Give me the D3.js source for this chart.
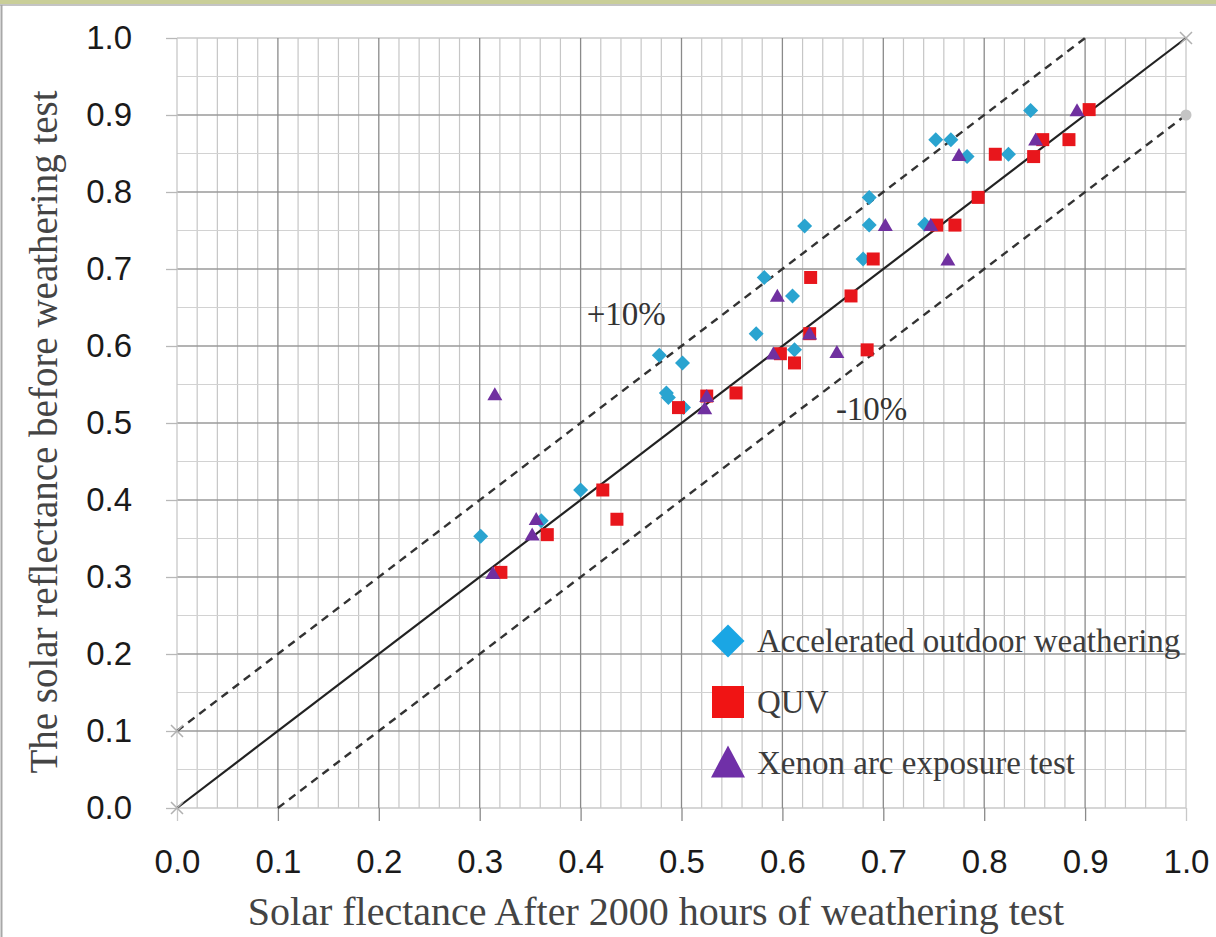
<!DOCTYPE html>
<html>
<head>
<meta charset="utf-8">
<script src="https://cdn.jsdelivr.net/npm/d3@7"></script>
<style>
  html, body { margin: 0; padding: 0; background: #fff; }
  svg { display: block; }
</style>
</head>
<body>
<svg id="chart" width="1216" height="937"></svg>
<script>
// ---------------- data ----------------
const xTicks = [0.0, 0.1, 0.2, 0.3, 0.4, 0.5, 0.6, 0.7, 0.8, 0.9, 1.0];
const yTicks = [0.0, 0.1, 0.2, 0.3, 0.4, 0.5, 0.6, 0.7, 0.8, 0.9, 1.0];

const outdoorX = [0.301, 0.361, 0.400, 0.478, 0.501, 0.485, 0.487, 0.502, 0.574, 0.582, 0.610, 0.612, 0.622, 0.680, 0.686, 0.686, 0.741, 0.752, 0.767, 0.783, 0.824, 0.846];
const outdoorY = [0.353, 0.373, 0.413, 0.588, 0.578, 0.539, 0.533, 0.520, 0.616, 0.689, 0.665, 0.595, 0.756, 0.713, 0.757, 0.793, 0.758, 0.868, 0.868, 0.846, 0.849, 0.906];

const quvX = [0.321, 0.367, 0.422, 0.436, 0.497, 0.525, 0.554, 0.598, 0.612, 0.627, 0.628, 0.668, 0.684, 0.690, 0.753, 0.771, 0.794, 0.811, 0.849, 0.858, 0.884, 0.904];
const quvY = [0.306, 0.355, 0.413, 0.375, 0.520, 0.535, 0.539, 0.590, 0.578, 0.616, 0.689, 0.665, 0.595, 0.713, 0.757, 0.757, 0.793, 0.849, 0.846, 0.868, 0.868, 0.907];

const xenonX = [0.313, 0.315, 0.352, 0.356, 0.523, 0.525, 0.591, 0.595, 0.627, 0.654, 0.702, 0.747, 0.764, 0.775, 0.851, 0.892];
const xenonY = [0.305, 0.537, 0.355, 0.375, 0.519, 0.535, 0.590, 0.665, 0.616, 0.592, 0.757, 0.757, 0.712, 0.848, 0.868, 0.906];

const seriesNames = ["Accelerated outdoor weathering", "QUV", "Xenon arc exposure test"];

// reference lines: y = x, y = x + 0.1, y = x - 0.1
const lineEqualX = [0.0, 1.0];
const lineEqualY = [0.0, 1.0];
const linePlusX = [0.0, 0.9];
const linePlusY = [0.1, 1.0];
const lineMinusX = [0.1, 1.0];
const lineMinusY = [0.0, 0.9];

const annotationTexts = ["+10%", "-10%"];
const annotationX = [0.406, 0.653];
const annotationY = [0.627, 0.504];

const xTitle = "Solar flectance After 2000 hours of weathering test";
const yTitle = "The solar reflectance before weathering test";

// ---------------- layout ----------------
const svg = d3.select("#chart");
const W = 1216, H = 937;
const x = d3.scaleLinear().domain([0, 1]).range([177, 1186]);
const y = d3.scaleLinear().domain([0, 1]).range([808, 38]);

const colOutdoor = "#2aa4d0";
const colQuv = "#e8161c";
const colXenon = "#7030a0";

// frame
svg.append("rect").attr("x", 0).attr("y", 0).attr("width", W).attr("height", 4).attr("fill", "#c9ce98");
svg.append("line").attr("x1", 0).attr("x2", W).attr("y1", 5).attr("y2", 5).attr("stroke", "#b0b0b0").attr("stroke-width", 1.5);
svg.append("line").attr("x1", 1.5).attr("x2", 1.5).attr("y1", 5).attr("y2", H).attr("stroke", "#a8a8a8").attr("stroke-width", 2);

// grid
const g = svg.append("g");
const vMinor = d3.range(0, 51).map(i => i / 50);
const hMinor = d3.range(0, 21).map(i => i / 20);
g.selectAll("line.vminor").data(vMinor.filter(v => Math.round(v * 50) % 5 !== 0)).join("line")
  .attr("x1", d => x(d)).attr("x2", d => x(d)).attr("y1", y(1)).attr("y2", y(0))
  .attr("stroke", "#c6c6c6").attr("stroke-width", 1.2);
g.selectAll("line.hminor").data(hMinor.filter(v => Math.round(v * 20) % 2 !== 0)).join("line")
  .attr("x1", x(0)).attr("x2", x(1)).attr("y1", d => y(d)).attr("y2", d => y(d))
  .attr("stroke", "#d2d2d2").attr("stroke-width", 1.2);
g.selectAll("line.hmajor").data(yTicks).join("line")
  .attr("x1", x(0)).attr("x2", x(1)).attr("y1", d => y(d)).attr("y2", d => y(d))
  .attr("stroke", d => (d === 0 || d === 1) ? "#c8c8c8" : "#9a9a9a").attr("stroke-width", 1.3);
g.selectAll("line.vmajor").data(xTicks).join("line")
  .attr("x1", d => x(d)).attr("x2", d => x(d)).attr("y1", y(1)).attr("y2", y(0))
  .attr("stroke", d => (d === 0 || d === 1) ? "#c8c8c8" : "#8a8a8a").attr("stroke-width", 1.3);

// axes
const tickFont = "'Liberation Sans', Arial, sans-serif";
const xAxis = d3.axisBottom(x).tickValues(xTicks).tickFormat(d3.format(".1f")).tickSize(13).tickPadding(29);
const yAxis = d3.axisLeft(y).tickValues(yTicks).tickFormat(d3.format(".1f")).tickSize(11).tickPadding(34);
const gx = svg.append("g").attr("transform", `translate(0,${y(0)})`).call(xAxis);
const gy = svg.append("g").attr("transform", `translate(${x(0)},0)`).call(yAxis);
[gx, gy].forEach(a => {
  a.select(".domain").remove();
  a.selectAll(".tick line").attr("stroke", "#b8b8b8").attr("stroke-width", 1.3);
  a.selectAll(".tick text").attr("font-family", tickFont).attr("font-size", 33).attr("fill", "#1a1a1a");
});
gx.selectAll(".tick line").attr("stroke", d => (d === 0 || d === 1) ? "#c8c8c8" : "#8a8a8a");

// reference lines
const lineGen = d3.line().x(d => x(d[0])).y(d => y(d[1]));
const zip = (a, b) => a.map((v, i) => [v, b[i]]);
svg.append("path").datum(zip(lineEqualX, lineEqualY)).attr("d", lineGen)
  .attr("fill", "none").attr("stroke", "#222").attr("stroke-width", 2.2);
svg.append("path").datum(zip(linePlusX, linePlusY)).attr("d", lineGen)
  .attr("fill", "none").attr("stroke", "#333").attr("stroke-width", 2.4).attr("stroke-dasharray", "8,6");
svg.append("path").datum(zip(lineMinusX, lineMinusY)).attr("d", lineGen)
  .attr("fill", "none").attr("stroke", "#333").attr("stroke-width", 2.4).attr("stroke-dasharray", "8,6");

// end markers of reference lines
const crossPts = [[lineEqualX[0], lineEqualY[0]], [lineEqualX[1], lineEqualY[1]], [linePlusX[0], linePlusY[0]]];
crossPts.forEach(p => {
  const cx = x(p[0]), cy = y(p[1]);
  svg.append("path").attr("d", `M${cx-6},${cy-6}L${cx+6},${cy+6}M${cx-6},${cy+6}L${cx+6},${cy-6}`)
    .attr("stroke", "#b0b0b0").attr("stroke-width", 1.5);
});
svg.append("circle").attr("cx", x(lineMinusX[1])).attr("cy", y(lineMinusY[1])).attr("r", 5.5).attr("fill", "#c4c4c4");

// annotations
svg.selectAll("text.ann").data(annotationTexts).join("text")
  .attr("x", (d, i) => x(annotationX[i])).attr("y", (d, i) => y(annotationY[i]))
  .attr("font-family", "'Liberation Serif', 'Times New Roman', serif").attr("font-size", 33)
  .attr("fill", "#333").text(d => d);

// markers
function diamondPath(s) { return `M0,${-s}L${s},0L0,${s}L${-s},0Z`; }
function squarePath(s) { return `M${-s},${-s}H${s}V${s}H${-s}Z`; }
function trianglePath(w, h) { return `M0,${-h*0.55}L${w},${h*0.45}L${-w},${h*0.45}Z`; }

svg.append("g").selectAll("path").data(zip(outdoorX, outdoorY)).join("path")
  .attr("transform", d => `translate(${x(d[0])},${y(d[1])})`)
  .attr("d", diamondPath(7.5)).attr("fill", colOutdoor);
svg.append("g").selectAll("path").data(zip(quvX, quvY)).join("path")
  .attr("transform", d => `translate(${x(d[0])},${y(d[1])})`)
  .attr("d", squarePath(6.5)).attr("fill", colQuv);
svg.append("g").selectAll("path").data(zip(xenonX, xenonY)).join("path")
  .attr("transform", d => `translate(${x(d[0])},${y(d[1])})`)
  .attr("d", trianglePath(7.5, 13)).attr("fill", colXenon);

// legend
const legendY = [641, 702, 763];
const lg = svg.append("g");
seriesNames.forEach((name, i) => {
  const cy = legendY[i];
  let d;
  if (i === 0) d = diamondPath(16.5);
  else if (i === 1) d = squarePath(16);
  else d = trianglePath(17, 32);
  lg.append("path").attr("transform", `translate(728,${cy})`).attr("d", d).attr("fill", i === 0 ? "#1aa6e4" : (i === 1 ? "#f01414" : "#7030a8"));
  lg.append("text").attr("x", 757).attr("y", cy).attr("dy", "0.33em")
    .attr("font-family", "'Liberation Serif', 'Times New Roman', serif").attr("font-size", 33)
    .attr("fill", "#3c3c3c").text(name);
});

// axis titles
svg.append("text").attr("x", 656).attr("y", 925).attr("text-anchor", "middle")
  .attr("font-family", "'Liberation Serif', 'Times New Roman', serif").attr("font-size", 40)
  .attr("fill", "#444").text(xTitle);
svg.append("text").attr("transform", "translate(57,432) rotate(-90)").attr("text-anchor", "middle")
  .attr("font-family", "'Liberation Serif', 'Times New Roman', serif").attr("font-size", 39)
  .attr("fill", "#444").text(yTitle);
</script>
</body>
</html>
